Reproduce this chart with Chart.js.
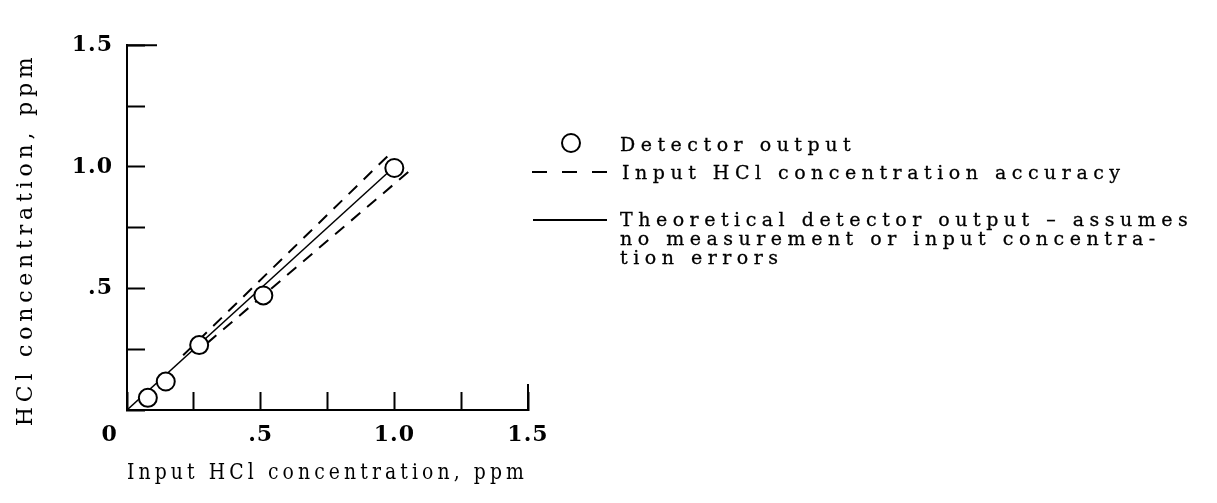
<!DOCTYPE html>
<html>
<head>
<meta charset="utf-8">
<script src="https://cdn.jsdelivr.net/npm/chart.js@4.4.1/dist/chart.umd.min.js"></script>
<style>
  html, body { margin: 0; padding: 0; background: #fff; }
  #wrap { position: relative; width: 1217px; height: 503px; overflow: hidden; }
  #chart { position: absolute; left: 0; top: 0; }
  .txt { position: absolute; font-family: "DejaVu Serif", serif; font-size: 19px; line-height: 19px; letter-spacing: 5.5px; color: #000; white-space: nowrap; -webkit-text-stroke: 0.3px #000; }
  .mark { position: absolute; background: #000; height: 2px; }
  .ring { position: absolute; width: 20px; height: 20px; box-sizing: border-box; border: 2px solid #000; border-radius: 50%; }
</style>
</head>
<body>
<div id="wrap">
  <canvas id="chart" width="1217" height="503"></canvas>

  <div class="ring" style="left:561px; top:133px;"></div>
  <div class="txt" style="left:620px; top:135px;">Detector output</div>

  <div class="mark" style="left:532px; top:171px; width:15px;"></div>
  <div class="mark" style="left:562px; top:171px; width:15px;"></div>
  <div class="mark" style="left:592px; top:171px; width:15px;"></div>
  <div class="txt" style="left:622px; top:163px;">Input HCl concentration accuracy</div>

  <div class="mark" style="left:533px; top:219px; width:74px;"></div>
  <div class="txt" style="left:620px; top:210px;">Theoretical detector output &ndash; assumes<br>no measurement or input concentra-<br>tion errors</div>
</div>

<script>
// values (ppm)
const detectorInput = [0.078, 0.145, 0.27, 0.51, 1.0];
const detectorOutput = [0.05, 0.117, 0.267, 0.471, 0.995];

const theoryInput = [0, 1.0];
const theoryOutput = [0, 1.0];

const upperInput = [0.21, 0.99];
const upperOutput = [0.225, 1.06];
const lowerInput = [0.3, 1.075];
const lowerOutput = [0.275, 1.0];

const xTickLabels = { '0': '0\u00a0\u00a0\u00a0\u00a0', '0.5': '.5', '1': '1.0', '1.5': '1.5' };
const yTickLabels = { '0.5': '.5', '1': '1.0', '1.5': '1.5' };

function toPoints(xs, ys) {
    return xs.map((x, i) => ({ x: x, y: ys[i] }));
}

const serif = 'DejaVu Serif';

// wide typewriter-like spacing: titles are drawn before the datasets, tick labels after
const spacing = {
    id: 'spacing',
    beforeLayout(chart) { chart.ctx.letterSpacing = '4.8px'; },
    beforeDraw(chart) { chart.ctx.letterSpacing = '4.8px'; },
    afterDatasetsDraw(chart) { chart.ctx.letterSpacing = '1px'; }
};

// the hand-drawn frame has longer marks at the top of y and the end of x
const endTicks = {
    id: 'endTicks',
    afterDraw(chart) {
        const { x, y } = chart.scales;
        const c = chart.ctx;
        const x0 = x.getPixelForValue(x.min);
        const y0 = y.getPixelForValue(y.min);
        const xEnd = x.getPixelForValue(x.max);
        const yEnd = y.getPixelForValue(y.max);
        c.save();
        c.strokeStyle = '#000';
        c.lineWidth = 2;
        c.beginPath();
        c.moveTo(x0, yEnd);
        c.lineTo(x0 + 30, yEnd);
        c.moveTo(xEnd, y0);
        c.lineTo(xEnd, y0 - 26);
        c.stroke();
        c.restore();
    }
};

const ctx = document.getElementById('chart').getContext('2d');

const chart = new Chart(ctx, {
    type: 'scatter',
    data: {
        datasets: [{
            label: 'Detector output',
            data: toPoints(detectorInput, detectorOutput),
            showLine: false,
            pointRadius: 9,
            pointBorderWidth: 2,
            pointBorderColor: '#000',
            pointBackgroundColor: '#fff',
            order: 0
        }, {
            label: 'Input HCl concentration accuracy',
            data: toPoints(upperInput, upperOutput),
            showLine: true,
            borderColor: '#000',
            borderWidth: 2,
            borderDash: [12, 9],
            pointRadius: 0,
            order: 1
        }, {
            label: 'Input HCl concentration accuracy (low)',
            data: toPoints(lowerInput, lowerOutput),
            showLine: true,
            borderColor: '#000',
            borderWidth: 2,
            borderDash: [12, 9],
            pointRadius: 0,
            order: 1
        }, {
            label: 'Theoretical detector output',
            data: toPoints(theoryInput, theoryOutput),
            showLine: true,
            borderColor: '#000',
            borderWidth: 1.5,
            pointRadius: 0,
            order: 1
        }]
    },
    options: {
        responsive: false,
        animation: false,
        layout: { padding: { top: 23, right: 689, bottom: 0, left: 0 } },
        plugins: {
            legend: { display: false },
            tooltip: { enabled: false }
        },
        scales: {
            x: {
                type: 'linear',
                min: 0,
                max: 1.5,
                afterFit: (scale) => { scale.height = 93; },
                ticks: {
                    z: 1,
                    stepSize: 0.25,
                    autoSkip: false,
                    maxRotation: 0,
                    padding: 30,
                    color: '#000',
                    font: { family: serif, size: 22, weight: 'bold' },
                    callback: (v) => xTickLabels[String(v)] || ''
                },
                grid: { drawOnChartArea: false, drawTicks: true, tickLength: -18, tickWidth: 2, tickColor: '#000' },
                border: { display: true, color: '#000', width: 2 },
                title: {
                    display: true,
                    text: 'Input HCl concentration, ppm',
                    color: '#000',
                    font: { family: serif, size: 22 },
                    padding: { top: 0, bottom: 17 }
                }
            },
            y: {
                type: 'linear',
                min: 0,
                max: 1.5,
                afterFit: (scale) => { scale.width = 127; },
                ticks: {
                    z: 1,
                    stepSize: 0.25,
                    autoSkip: false,
                    padding: 32,
                    color: '#000',
                    font: { family: serif, size: 22, weight: 'bold' },
                    callback: (v) => yTickLabels[String(v)] || ''
                },
                grid: { drawOnChartArea: false, drawTicks: true, tickLength: -18, tickWidth: 2, tickColor: '#000' },
                border: { display: true, color: '#000', width: 2 },
                title: {
                    display: true,
                    text: 'HCl concentration, ppm\u00a0\u00a0',
                    color: '#000',
                    font: { family: serif, size: 22 },
                    padding: { top: 13, bottom: 0 }
                }
            }
        }
    },
    plugins: [spacing, endTicks]
});
</script>
</body>
</html>
